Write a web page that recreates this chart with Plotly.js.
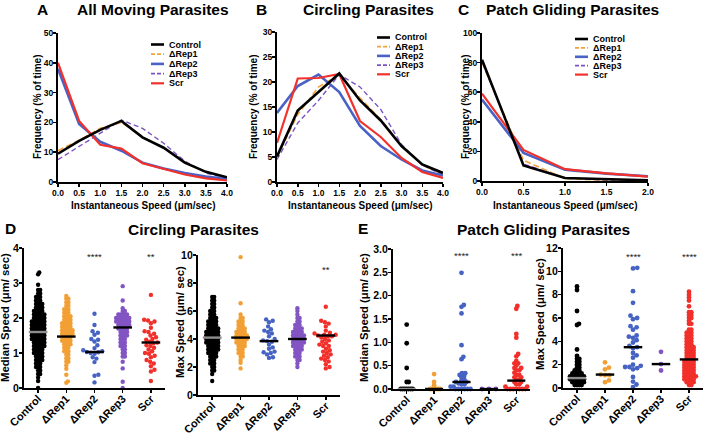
<!DOCTYPE html>
<html><head><meta charset="utf-8">
<script src="https://cdn.plot.ly/plotly-3.0.1.min.js"></script>
<style>html,body{margin:0;padding:0;background:#fff}#chart{width:705px;height:436px}</style>
</head><body><div id="chart"></div>
<script>
const W=705,H=436;
// ---------- data: frequency distributions ----------
const speedAB=[0,0.5,1,1.5,2,2.5,3,3.5,4];
const speedC=[0,0.5,1,1.5,2];
const groupNames=['Control','ΔRep1','ΔRep2','ΔRep3','Scr'];
// A  All moving parasites
const aControl=[9.5,13.8,17.5,20.5,15,11.5,6.5,3.4,1.6];
const aRep1=[10.5,14,18,20,15,11.5,6.8,3.3,1.5];
const aRep2=[38,19.5,13.5,10.5,6.5,4.5,3,1.8,1];
const aRep3=[7.5,12,16.5,20.8,18,13,7,3,1.2];
const aScr=[40,20.5,12.5,11.2,6.3,4.3,2.5,1.2,0.5];
// B  Circling parasites
const bControl=[5.1,14.3,18,21.7,16.3,12.3,7.2,3.5,1.8];
const bRep1=[5,13.5,19,21.5,16.8,12.5,7.2,3.4,1.5];
const bRep2=[13.8,19.2,21.5,18,11.2,7.2,4.5,2.3,1.3];
const bRep3=[4.5,11.8,16.3,21.5,19,14.5,7.5,3.4,1.4];
const bScr=[7.8,20.7,20.8,21.6,12.2,9,4.8,2,0.8];
// C  Patch gliding parasites
const cControl=[82,10.5,2,1,0.5];
const cRep1=[80,14,1.6,0.5,0.3];
const cRep2=[55,19,7.7,5,3.2];
const cRep3=[81,11.5,2,0.8,0.4];
const cScr=[59,21,8,5.2,3];
// ---------- data: per-parasite speeds ----------
// D median speed (value rows + number of dots in the row)
const dMedControlVals=[0,0.2,0.3,0.4,0.5,0.6,0.7,0.8,0.9,1.0,1.1,1.2,1.3,1.4,1.5,1.6,1.7,1.8,1.9,2.0,2.1,2.2,2.3,2.4,2.5,2.6,2.7,2.8,2.95,3.25,3.3];
const dMedControlCounts=[1,1,1,2,2,3,3,4,4,5,5,6,6,7,7,7,7,7,7,6,6,5,4,4,3,3,2,2,1,1,1];
const dMedRep1Vals=[0.15,0.19,0.38,0.55,0.65,0.75,0.85,0.95,1.05,1.15,1.25,1.35,1.45,1.55,1.65,1.75,1.85,1.95,2.05,2.15,2.25,2.35,2.45,2.55,2.63];
const dMedRep1Counts=[1,1,1,1,1,2,2,2,3,3,4,5,5,6,6,5,5,4,4,3,3,2,2,2,1];
const dMedRep2=[2.12,1.8,1.62,1.58,1.52,1.4,1.38,1.33,1.22,1.14,1.08,1.05,1.03,1.02,1.0,0.98,0.88,0.84,0.74,0.38,0.35,0.16];
const dMedRep3Vals=[0,0.18,0.56,0.75,0.9,1.0,1.1,1.2,1.3,1.4,1.5,1.6,1.7,1.8,1.9,2.0,2.1,2.2,2.28,2.5,2.91];
const dMedRep3Counts=[1,1,1,1,2,2,2,3,3,3,4,4,5,6,7,7,5,2,1,1,1];
const dMedScr=[2.66,1.95,1.93,1.9,1.85,1.72,1.62,1.6,1.55,1.5,1.45,1.4,1.38,1.32,1.3,1.28,1.22,1.2,1.15,1.1,1.05,1.0,0.98,0.92,0.88,0.8,0.75,0.7,0.62,0.52,0.47,0.2];
const dMedCenter=[1.6,1.47,1.03,1.73,1.3];
const dMedStars=['','','****','','**'];
// D max speed
const dMaxControlVals=[1.0,1.5,1.75,2.0,2.25,2.5,2.75,3.0,3.25,3.5,3.75,4.0,4.25,4.5,4.75,5.0,5.25,5.5,5.75,6.0,6.25,6.5,6.75,7.0];
const dMaxControlCounts=[1,1,2,2,3,3,4,5,6,6,7,7,7,7,6,5,5,4,3,3,2,2,2,2];
const dMaxRep1Vals=[1.9,2.3,2.5,2.75,3.0,3.25,3.5,3.75,4.0,4.25,4.5,4.75,5.0,5.25,5.5,5.75,6.55,9.85];
const dMaxRep1Counts=[1,1,1,2,3,3,4,5,6,6,5,4,3,3,2,1,1,1];
const dMaxRep2=[5.4,5.3,5.2,4.9,4.7,4.6,4.5,4.4,4.2,4.0,3.9,3.85,3.8,3.6,3.4,3.3,3.1,3.05,3.0,2.9,2.7,2.65];
const dMaxRep3Vals=[2.0,2.25,2.5,2.75,3.0,3.25,3.5,3.75,4.0,4.25,4.5,4.75,5.0,5.25,5.5,5.75,6.0,6.2];
const dMaxRep3Counts=[1,1,2,3,3,4,5,6,6,6,5,4,3,2,2,1,1,1];
const dMaxScr=[6.3,5.3,5.2,5.1,4.9,4.6,4.45,4.4,4.3,4.3,4.25,4.2,4.2,4.1,4.0,3.9,3.8,3.7,3.6,3.5,3.5,3.3,3.2,3.1,3.0,2.9,2.8,2.7,2.6,2.5,2.4,2.2,2.0,1.9];
const dMaxCenter=[4.1,4.1,3.85,4.0,4.25];
const dMaxStars=['','','','','**'];
// E median speed
const eMedControlVals=[0,0.15,0.45,0.98,1.38];
const eMedControlCounts=[7,2,1,1,1];
const eMedRep1Vals=[0,0.08,0.15,0.32];
const eMedRep1Counts=[6,1,1,1];
const eMedRep2Vals=[0,0.05,0.1,0.12,0.15,0.18,0.2,0.25,0.28,0.3,0.34,0.64,0.69,0.94,1.62,1.76,1.8,2.49];
const eMedRep2Counts=[6,2,2,1,2,1,1,1,1,1,2,1,1,1,1,1,1,1];
const eMedRep3=[0,0,0];
const eMedScrVals=[0,0.05,0.1,0.15,0.2,0.25,0.3,0.35,0.4,0.45,0.5,0.55,0.6,0.7,0.75,1.1,1.18,1.72,1.78];
const eMedScrCounts=[7,2,2,2,2,2,2,1,2,2,1,2,1,1,1,1,1,1,1];
const eMedCenter=[0,0,0.15,0,0.18];
const eMedStars=['','','****','','***'];
// E max speed
const eMaxControlVals=[0.25,0.5,0.75,1.0,1.25,1.5,1.75,2.0,2.25,2.5,2.75,3.3,5.4,5.5,6.6,8.4,8.7];
const eMaxControlCounts=[4,6,7,7,5,3,2,2,2,2,1,1,1,1,1,1,1];
const eMaxRep1=[2.2,1.75,1.6,1.15,1.1,1.1,0.65,0.5];
const eMaxRep2=[10.3,10.25,8.3,7.3,6.2,6.0,5.9,5.3,5.2,5.0,4.5,4.4,4.3,4.1,3.9,3.6,3.5,3.4,3.0,2.8,2.6,2.0,1.9,1.8,1.8,1.7,1.6,0.95,0.55,0.3,0.08];
const eMaxRep3=[3.1,2.05,1.5];
const eMaxScrVals=[0.25,0.5,0.75,1.0,1.25,1.5,1.75,2.0,2.25,2.5,2.75,3.0,3.25,3.5,3.75,4.0,4.25,4.5,4.75,5.0,5.5,5.75,6.0,6.25,6.5,7.0,7.5,7.75,8.0,8.25];
const eMaxScrCounts=[2,4,5,6,5,5,5,5,5,4,4,4,4,4,3,3,3,3,3,2,2,1,2,2,2,1,1,1,1,1];
const eMaxCenter=[0.85,1.15,3.5,2.05,2.45];
const eMaxStars=['','','****','','****'];

// ---------- styling ----------
const FF='Arial, "Liberation Sans", Helvetica, sans-serif';
const lineColors=['#000000','#F4A23C','#4A62C6','#7C55C4','#F2312B'];
const lineWidths=[2.6,1.6,2.6,1.4,2.2];
const lineDash=['solid','6px,3px','solid','5px,3px','solid'];
const dotColors=['#000000','#F2A035','#4663C4','#8355C3','#F2302B'];

const layout={width:W,height:H,margin:{l:0,r:0,t:0,b:0},showlegend:false,
  paper_bgcolor:'#fff',plot_bgcolor:'rgba(0,0,0,0)',font:{family:FF,color:'#000'},
  annotations:[],shapes:[]};
const traces=[];
let axN=0;
function addAxes(box,xr,yr,xo,yo){
  axN++;
  const xa=axN===1?'xaxis':'xaxis'+axN, ya=axN===1?'yaxis':'yaxis'+axN;
  const xid=axN===1?'x':'x'+axN, yid=axN===1?'y':'y'+axN;
  const common={showline:true,linecolor:'#000',linewidth:1.6,ticks:'outside',ticklen:3.5,tickwidth:1.5,tickcolor:'#000',showgrid:false,zeroline:false,fixedrange:true};
  layout[xa]=Object.assign({},common,{domain:[box[0]/W,box[1]/W],range:xr,anchor:yid},xo);
  layout[ya]=Object.assign({},common,{domain:[1-box[3]/H,1-box[2]/H],range:yr,anchor:xid},yo);
  return {x:xid,y:yid};
}
function txt(x,y,text,size,opts){
  layout.annotations.push(Object.assign({xref:'paper',yref:'paper',x:x/W,y:1-y/H,text:text,showarrow:false,
    xanchor:'center',yanchor:'middle',font:{family:FF,size:size,color:'#000',weight:'bold'}},opts||{}));
}

// ---------- line panels ----------
const linePanels=[
  {box:[58,227,33,182],xs:speedAB,xr:[0,4],yr:[0,50],dt:10,series:[aControl,aRep1,aRep2,aRep3,aScr],
   leg:{lx0:151,lx1:164,tx:167,y0:44.5,step:9.7}},
  {box:[277,443,32,182],xs:speedAB,xr:[0,4],yr:[0,30],dt:5,series:[bControl,bRep1,bRep2,bRep3,bScr],
   leg:{lx0:377,lx1:390,tx:393,y0:37.5,step:9.2}},
  {box:[482,648,33,181],xs:speedC,xr:[0,2],yr:[0,100],dt:20,series:[cControl,cRep1,cRep2,cRep3,cScr],
   leg:{lx0:575,lx1:588,tx:591,y0:39,step:8.9}}
];
const drawOrder=[1,3,2,4,0];
linePanels.forEach(p=>{
  const ax=addAxes(p.box,p.xr,p.yr,
    {tickmode:'array',tickvals:p.xs,ticktext:p.xs.map(v=>v.toFixed(1)),tickfont:{size:8.5,weight:'bold'},ticklabelstandoff:-1},
    {tick0:0,dtick:p.dt,tickfont:{size:8.5,weight:'bold'},ticklabelstandoff:-2});
  drawOrder.forEach(i=>{
    traces.push({type:'scatter',mode:'lines',x:p.xs,y:p.series[i],xaxis:ax.x,yaxis:ax.y,cliponaxis:false,
      line:{color:lineColors[i],width:lineWidths[i],dash:lineDash[i]},hoverinfo:'skip'});
  });
  groupNames.forEach((n,i)=>{
    const y=p.leg.y0+i*p.leg.step;
    layout.shapes.push({type:'line',xref:'paper',yref:'paper',x0:p.leg.lx0/W,x1:p.leg.lx1/W,y0:1-y/H,y1:1-y/H,
      line:{color:lineColors[i],width:Math.max(lineWidths[i],1.8),dash:lineDash[i]==='solid'?'solid':'4px,2px'}});
    txt(p.leg.tx,y,n,9,{xanchor:'left'});
  });
});

// ---------- beeswarm layout ----------
function expand(vals,counts){const o=[];vals.forEach((v,i)=>{for(let k=0;k<counts[i];k++)o.push(v);});return o;}
function swarm(values,d,xpx,ypx){
  const idx=values.map((v,i)=>i).sort((a,b)=>values[a]-values[b]);
  const placed=[],off=new Array(values.length);
  idx.forEach(i=>{
    const y=values[i]*ypx;
    const c=[0];
    placed.forEach(p=>{const dy=y-p.y;if(Math.abs(dy)<d){const dx=Math.sqrt(d*d-dy*dy);c.push(p.x+dx,p.x-dx);}});
    c.sort((a,b)=>Math.abs(a)-Math.abs(b));
    let best=0;
    for(const cx of c){if(placed.every(p=>(p.x-cx)*(p.x-cx)+(p.y-y)*(p.y-y)>=d*d-1e-6)){best=cx;break;}}
    placed.push({x:best,y:y});off[i]=best/xpx;
  });
  return off;
}

const dotPanels=[
  {box:[24,165,248,388],yr:[0,4],dt:1,fmt:'',size:4.4,d:[2.1,2.1,4.0,2.2,4.0],
   groups:[expand(dMedControlVals,dMedControlCounts),expand(dMedRep1Vals,dMedRep1Counts),dMedRep2,expand(dMedRep3Vals,dMedRep3Counts),dMedScr],
   centers:dMedCenter,stars:dMedStars,starPx:256},
  {box:[198,340,255,395],yr:[0,10],dt:2,fmt:'',size:4.4,d:[2.0,2.1,4.0,2.2,4.0],
   groups:[expand(dMaxControlVals,dMaxControlCounts),expand(dMaxRep1Vals,dMaxRep1Counts),dMaxRep2,expand(dMaxRep3Vals,dMaxRep3Counts),dMaxScr],
   centers:dMaxCenter,stars:dMaxStars,starPx:269},
  {box:[393,530,249,389],yr:[0,3],dt:0.5,fmt:'.1f',size:4.8,d:[2,2,3,7,3],
   groups:[expand(eMedControlVals,eMedControlCounts),expand(eMedRep1Vals,eMedRep1Counts),expand(eMedRep2Vals,eMedRep2Counts),eMedRep3,expand(eMedScrVals,eMedScrCounts)],
   centers:eMedCenter,stars:eMedStars,starPx:256},
  {box:[563,703,248,388],yr:[0,12],dt:2,fmt:'',size:4.8,d:[2.3,4.3,4.3,4.3,2.3],
   groups:[expand(eMaxControlVals,eMaxControlCounts),eMaxRep1,eMaxRep2,eMaxRep3,expand(eMaxScrVals,eMaxScrCounts)],
   centers:eMaxCenter,stars:eMaxStars,starPx:256}
];
dotPanels.forEach(p=>{
  const xr=[-0.5,4.5];
  const ax=addAxes(p.box,xr,p.yr,
    {tickmode:'array',tickvals:[0,1,2,3,4],ticktext:groupNames,tickangle:-45,tickfont:{size:11,weight:'bold'},ticklabelstandoff:-5},
    {tick0:0,dtick:p.dt,tickformat:p.fmt,tickfont:{size:10.5,weight:'bold'},ticklabelstandoff:-2});
  const xpx=(p.box[1]-p.box[0])/(xr[1]-xr[0]);
  const ypx=(p.box[3]-p.box[2])/(p.yr[1]-p.yr[0]);
  p.groups.forEach((vals,i)=>{
    const off=swarm(vals,p.d[i],xpx,ypx);
    traces.push({type:'scatter',mode:'markers',x:off.map(o=>i+o),y:vals,xaxis:ax.x,yaxis:ax.y,cliponaxis:false,
      marker:{size:p.size,color:dotColors[i],line:{width:0}},hoverinfo:'skip'});
  });
  p.centers.forEach((c,i)=>{
    traces.push({type:'scatter',mode:'lines',x:[i-0.33,i+0.33],y:[c,c],xaxis:ax.x,yaxis:ax.y,cliponaxis:false,
      line:{color:i===0?'#8e8e8e':'#000',width:2.4},hoverinfo:'skip'});
  });
  p.stars.forEach((s,i)=>{
    if(!s) return;
    const yv=(p.box[3]-p.starPx)/ypx;
    layout.annotations.push({xref:ax.x,yref:ax.y,x:i,y:yv,text:s,showarrow:false,xanchor:'center',yanchor:'middle',
      font:{family:FF,size:9.5,color:'#222'}});
  });
});

// ---------- titles ----------
const T=15.5;
txt(42,10,'A',T); txt(153,10,'All Moving Parasites',T);
txt(261,10,'B',T); txt(368,10,'Circling Parasites',T);
txt(464,10,'C',T); txt(572,10,'Patch Gliding Parasites',T);
txt(10,228,'D',T); txt(193,230,'Circling Parasites',T);
txt(363,228,'E',T); txt(543,230,'Patch Gliding Parasites',T);
// axis titles
txt(143,205,'Instantaneous Speed (μm/sec)',10);
txt(360,205,'Instantaneous Speed (μm/sec)',10);
txt(565,205,'Instantaneous Speed (μm/sec)',10);
txt(37,107,'Frequency (% of time)',10,{textangle:-90});
txt(253,107,'Frequency (% of time)',10,{textangle:-90});
txt(465,107,'Frequency (% of time)',10,{textangle:-90});
txt(5,318,'Median Speed (μm/ sec)',11.3,{textangle:-90});
txt(180,322,'Max Speed (μm/ sec)',11.3,{textangle:-90});
txt(364,318,'Median Speed (μm/ sec)',11.3,{textangle:-90});
txt(540,314,'Max Speed (μm/ sec)',11.3,{textangle:-90});

Plotly.newPlot('chart',traces,layout,{displayModeBar:false,staticPlot:true});
</script></body></html>
